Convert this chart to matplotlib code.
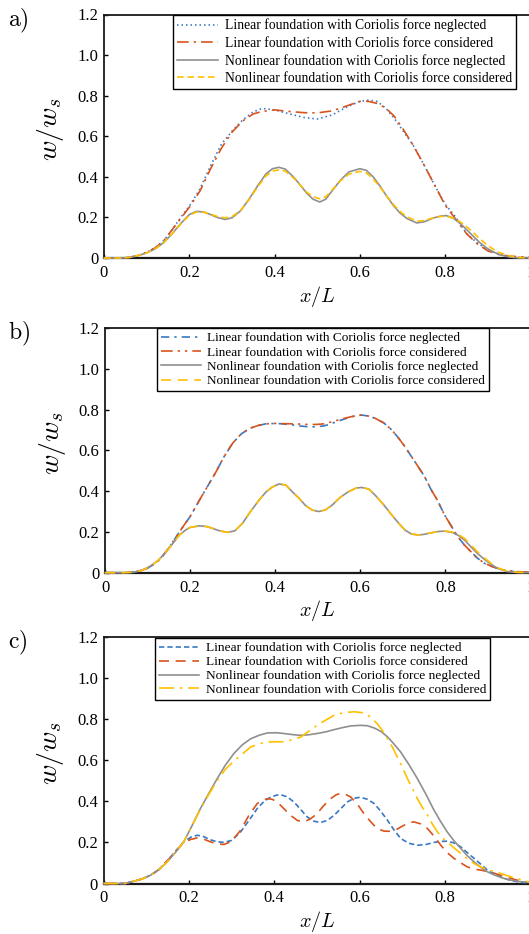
import matplotlib
matplotlib.use("Agg")
import matplotlib.pyplot as plt

plt.rcParams['font.family'] = ['Liberation Serif', 'DejaVu Serif']
plt.rcParams['mathtext.fontset'] = 'cm'

# ---------------- data ----------------
labels = ["Linear foundation with Coriolis force neglected",
          "Linear foundation with Coriolis force considered",
          "Nonlinear foundation with Coriolis force neglected",
          "Nonlinear foundation with Coriolis force considered"]
xticks = [0, 0.2, 0.4, 0.6, 0.8, 1.0]
xticklabels = ["0", "0.2", "0.4", "0.6", "0.8", "1"]
yticks = [0, 0.2, 0.4, 0.6, 0.8, 1.0, 1.2]
yticklabels = ["0", "0.2", "0.4", "0.6", "0.8", "1.0", "1.2"]
panel_names = ["a)", "b)", "c)"]

# panel a
xa_l = [0, 0.04, 0.06, 0.08, 0.1, 0.12, 0.14, 0.16, 0.18, 0.2, 0.225, 0.25, 0.275, 0.3, 0.325, 0.35, 0.37,
        0.4, 0.435, 0.47, 0.5, 0.535, 0.57, 0.6, 0.62, 0.64, 0.66, 0.68, 0.7, 0.725, 0.75, 0.775, 0.8, 0.825,
        0.85, 0.875, 0.9, 0.93, 0.96, 1.0]
a_lin_neg = [0, 0, .004, .012, .028, .05, .085, .14, .2, .255, .34, .455, .56, .625, .68, .72, .737, .73, .71,
             .692, .685, .705, .745, .772, .778, .772, .74, .69, .63, .555, .46, .36, .265, .2, .12, .075, .04,
             .016, .005, 0]
a_lin_con = [0, 0, .004, .012, .028, .05, .085, .14, .195, .25, .33, .44, .54, .62, .675, .71, .722, .73, .722,
             .716, .715, .725, .75, .772, .772, .762, .74, .7, .64, .555, .46, .36, .26, .19, .12, .07, .035,
             .014, .008, .004]
xa_n = [0, 0.04, 0.06, 0.08, 0.1, 0.12, 0.14, 0.16, 0.18, 0.2, 0.217, 0.235, 0.25, 0.265, 0.284, 0.3, 0.32,
        0.34, 0.36, 0.38, 0.395, 0.41, 0.425, 0.444, 0.46, 0.475, 0.49, 0.506, 0.52, 0.537, 0.555, 0.575, 0.6,
        0.615, 0.631, 0.647, 0.663, 0.68, 0.694, 0.71, 0.733, 0.75, 0.772, 0.79, 0.803, 0.82, 0.834, 0.85,
        0.866, 0.88, 0.897, 0.913, 0.928, 0.95, 0.97, 1.0]
a_non_neg = [0, 0, .003, .012, .025, .045, .076, .12, .17, .214, .23, .226, .214, .2, .19, .198, .232, .29,
             .355, .415, .44, .447, .438, .40, .36, .32, .29, .276, .29, .337, .385, .425, .44, .432, .40,
             .355, .304, .255, .222, .195, .173, .178, .197, .207, .209, .195, .173, .14, .107, .078, .049,
             .03, .016, .005, .001, 0]
a_non_con = [0, 0, .003, .012, .025, .045, .076, .12, .168, .21, .227, .225, .215, .205, .198, .204, .234,
             .287, .35, .405, .428, .435, .428, .395, .36, .325, .302, .292, .302, .34, .382, .414, .427, .42,
             .39, .35, .305, .26, .23, .203, .182, .184, .198, .205, .205, .196, .18, .155, .125, .097, .066,
             .043, .026, .011, .003, 0]

# panel b
xb_l = [0, 0.05, 0.08, 0.1, 0.12, 0.135, 0.152, 0.167, 0.183, 0.2, 0.222, 0.24, 0.261, 0.28, 0.3, 0.32,
        0.339, 0.36, 0.378, 0.4, 0.417, 0.44, 0.456, 0.475, 0.495, 0.515, 0.533, 0.55, 0.572, 0.59, 0.603,
        0.62, 0.635, 0.655, 0.674, 0.69, 0.705, 0.72, 0.736, 0.75, 0.767, 0.78, 0.798, 0.815, 0.829, 0.845,
        0.86, 0.875, 0.892, 0.91, 0.923, 0.94, 0.962, 0.98, 1.0]
b_lin_neg = [0, 0, .008, .022, .048, .08, .127, .175, .225, .275, .356, .42, .495, .57, .635, .68, .707,
             .722, .73, .732, .73, .725, .72, .716, .715, .72, .732, .745, .76, .77, .773, .768, .757, .735,
             .70, .66, .618, .57, .52, .475, .405, .36, .283, .225, .176, .135, .103, .072, .046, .03, .021,
             .012, .005, .002, .001]
b_lin_con = [0, 0, .008, .022, .048, .08, .127, .175, .225, .275, .356, .42, .495, .57, .635, .68, .707,
             .722, .73, .732, .731, .73, .729, .727, .727, .73, .74, .75, .762, .77, .773, .768, .757, .735,
             .70, .66, .618, .57, .52, .475, .405, .36, .283, .225, .176, .135, .103, .072, .046, .03, .021,
             .012, .006, .004, .003]
xb_n = [0, 0.04, 0.066, 0.085, 0.105, 0.125, 0.144, 0.16, 0.175, 0.19, 0.2, 0.222, 0.24, 0.253, 0.27, 0.288,
        0.305, 0.323, 0.342, 0.362, 0.378, 0.393, 0.409, 0.425, 0.44, 0.456, 0.471, 0.487, 0.502, 0.518,
        0.533, 0.553, 0.572, 0.59, 0.603, 0.62, 0.635, 0.655, 0.674, 0.69, 0.705, 0.72, 0.736, 0.75, 0.767,
        0.783, 0.798, 0.815, 0.829, 0.845, 0.86, 0.875, 0.892, 0.908, 0.923, 0.946, 0.97, 1.0]
b_non_neg = [0, 0, .002, .01, .03, .06, .103, .145, .185, .21, .222, .23, .226, .217, .205, .198, .205, .242,
             .3, .356, .395, .42, .435, .43, .397, .365, .33, .307, .30, .308, .33, .37, .397, .415, .418,
             .41, .38, .333, .283, .243, .209, .19, .185, .188, .196, .202, .204, .198, .185, .16, .127,
             .095, .065, .04, .021, .005, .001, 0]
b_non_con = [0, 0, .002, .01, .03, .06, .103, .145, .185, .21, .222, .23, .226, .217, .205, .198, .205, .242,
             .3, .356, .395, .42, .435, .43, .397, .365, .33, .307, .30, .308, .33, .37, .397, .415, .418,
             .41, .38, .333, .283, .243, .209, .19, .185, .188, .196, .202, .204, .2, .19, .168, .137,
             .103, .072, .045, .024, .007, .002, 0]

# panel c
xc_b = [0, 0.05, 0.071, 0.09, 0.11, 0.13, 0.149, 0.168, 0.188, 0.205, 0.22, 0.235, 0.25, 0.266, 0.282, 0.3,
        0.321, 0.34, 0.36, 0.376, 0.391, 0.405, 0.415, 0.43, 0.446, 0.462, 0.477, 0.493, 0.509, 0.525, 0.54,
        0.556, 0.571, 0.587, 0.602, 0.618, 0.634, 0.65, 0.665, 0.68, 0.696, 0.715, 0.735, 0.755, 0.774, 0.79,
        0.805, 0.82, 0.837, 0.852, 0.868, 0.884, 0.899, 0.915, 0.93, 0.946, 0.962, 0.98, 1.0]
c_lin_neg = [0, 0, .011, .022, .04, .068, .11, .155, .203, .226, .235, .228, .213, .203, .2, .21, .251, .305,
             .365, .4, .42, .43, .432, .422, .397, .36, .324, .303, .297, .308, .332, .365, .397, .415, .42,
             .41, .389, .35, .308, .262, .219, .196, .186, .19, .2, .205, .206, .198, .178, .15, .122, .093,
             .065, .046, .032, .02, .011, .005, .002]
xc_o = [0, 0.05, 0.071, 0.09, 0.11, 0.13, 0.149, 0.168, 0.188, 0.205, 0.22, 0.235, 0.25, 0.266, 0.282, 0.3,
        0.321, 0.34, 0.36, 0.372, 0.384, 0.395, 0.407, 0.422, 0.438, 0.454, 0.47, 0.485, 0.5, 0.516, 0.532,
        0.545, 0.555, 0.567, 0.579, 0.595, 0.61, 0.626, 0.641, 0.657, 0.673, 0.688, 0.704, 0.716, 0.727,
        0.743, 0.759, 0.775, 0.79, 0.805, 0.821, 0.837, 0.852, 0.868, 0.884, 0.9, 0.915, 0.93, 0.946, 0.962,
        0.98, 1.0]
c_lin_con = [0, 0, .011, .022, .04, .068, .11, .155, .2, .215, .222, .216, .203, .193, .19, .205, .259, .33,
             .389, .405, .413, .41, .397, .365, .332, .307, .3, .315, .34, .38, .413, .432, .438, .434, .421,
             .385, .34, .3, .267, .255, .254, .265, .284, .296, .3, .29, .267, .228, .186, .15, .122, .1,
             .081, .07, .065, .058, .05, .04, .03, .02, .01, .004]
xc_g = [0, 0.05, 0.071, 0.09, 0.11, 0.13, 0.149, 0.168, 0.188, 0.207, 0.227, 0.247, 0.266, 0.285, 0.305,
        0.325, 0.345, 0.365, 0.384, 0.405, 0.423, 0.442, 0.462, 0.48, 0.5, 0.52, 0.54, 0.56, 0.579, 0.602,
        0.618, 0.634, 0.65, 0.665, 0.68, 0.696, 0.715, 0.735, 0.755, 0.774, 0.79, 0.805, 0.82, 0.837, 0.852,
        0.868, 0.884, 0.899, 0.915, 0.93, 0.946, 0.962, 0.98, 1.0]
c_non_neg = [0, 0, .011, .022, .04, .068, .105, .15, .203, .28, .365, .44, .51, .575, .632, .675, .705, .722,
             .733, .734, .73, .725, .721, .724, .73, .738, .749, .759, .767, .77, .768, .757, .74, .714, .68,
             .64, .58, .511, .435, .357, .3, .251, .21, .17, .135, .105, .078, .057, .042, .03, .02, .013,
             .008, .005]
xc_y = [0, 0.05, 0.071, 0.09, 0.11, 0.13, 0.149, 0.168, 0.188, 0.207, 0.227, 0.247, 0.266, 0.285, 0.305,
        0.325, 0.345, 0.365, 0.384, 0.405, 0.423, 0.442, 0.462, 0.48, 0.5, 0.52, 0.54, 0.563, 0.587, 0.605,
        0.618, 0.63, 0.641, 0.653, 0.665, 0.677, 0.688, 0.7, 0.712, 0.724, 0.735, 0.747, 0.759, 0.77, 0.782,
        0.795, 0.805, 0.82, 0.837, 0.852, 0.868, 0.884, 0.899, 0.915, 0.93, 0.946, 0.962, 0.98, 1.0]
c_non_con = [0, 0, .011, .022, .04, .068, .105, .15, .203, .28, .362, .435, .5, .555, .595, .63, .665, .68,
             .689, .69, .69, .7, .713, .74, .77, .795, .819, .832, .836, .832, .822, .8, .778, .745, .705,
             .662, .616, .565, .51, .46, .413, .37, .332, .29, .251, .22, .203, .175, .146, .12, .097, .08,
             .068, .058, .049, .038, .028, .017, .005]

# ---------------- style ----------------
BLUE = '#3a78c2'
ORANGE = '#d9541c'
GRAY = '#8f8f8f'
YELLOW = '#ffc000'

W, H = 529, 934
fig = plt.figure(figsize=(W / 100, H / 100), dpi=100)


def make_axes(left, top, bottom, right=530.5):
    return fig.add_axes([left / W, 1 - bottom / H, (right - left) / W, (bottom - top) / H])


panels = [
    dict(box=(104, 14.5, 258), legend=(173, 14.5), lfs=9.8, lsp=0.32,
         series=[(xa_l, a_lin_neg, BLUE, (0, (0.9, 1.8))),
                 (xa_l, a_lin_con, ORANGE, (0, (7, 3, 1.4, 3))),
                 (xa_n, a_non_neg, GRAY, '-'),
                 (xa_n, a_non_con, YELLOW, (0, (4, 2.2)))]),
    dict(box=(105, 328, 572.7), legend=(157, 328), lfs=9.5, lsp=0.16,
         series=[(xb_l, b_lin_neg, BLUE, (0, (5, 3, 1.4, 3))),
                 (xb_l, b_lin_con, ORANGE, (0, (7, 3, 1.4, 3, 1.4, 3))),
                 (xb_n, b_non_neg, GRAY, '-'),
                 (xb_n, b_non_con, YELLOW, (0, (6, 4)))]),
    dict(box=(103.5, 637, 883.5), legend=(155, 638), lfs=9.6, lsp=0.12,
         series=[(xc_b, c_lin_neg, BLUE, (0, (3.2, 1.8))),
                 (xc_o, c_lin_con, ORANGE, (0, (6, 4))),
                 (xc_g, c_non_neg, GRAY, '-'),
                 (xc_y, c_non_con, YELLOW, (0, (9, 3.5, 1.4, 3.5)))]),
]

for i, p in enumerate(panels):
    left, top, bottom = p['box']
    ax = make_axes(left, top, bottom)
    handles = []
    for (xs, ys, col, ls), lab in zip(p['series'], labels):
        ln, = ax.plot(xs, ys, color=col, linestyle=ls, lw=1.2, zorder=3, clip_on=False, label=lab)
        handles.append(ln)
    ax.set_xlim(0, 1)
    ax.set_ylim(0, 1.2)
    ax.set_xticks(xticks)
    ax.set_xticklabels(xticklabels)
    ax.set_yticks(yticks)
    ax.set_yticklabels(yticklabels)
    ax.tick_params(direction='in', length=3, width=1, labelsize=12, pad=4,
                   top=False, right=False)
    ax.tick_params(axis='x', pad=5)
    for s in ['left', 'bottom', 'top', 'right']:
        ax.spines[s].set_linewidth(1.3)
        ax.spines[s].set_color('#1a1a1a')
    ax.spines['bottom'].set_linewidth(1.6)
    ax.set_xlabel(r'$x/L$', fontsize=14.5, labelpad=2)
    ax.set_ylabel(r'$w/w_s$', fontsize=20)
    ax.yaxis.set_label_coords(-0.088, 0.53)
    lx, ly = p['legend']
    leg = ax.legend(handles=handles, loc='upper left',
                    bbox_to_anchor=(lx / W, 1 - ly / H), bbox_transform=fig.transFigure,
                    borderaxespad=0, fontsize=p['lfs'], frameon=True, fancybox=False,
                    edgecolor='black', framealpha=1, handlelength=3.0, handletextpad=0.5,
                    labelspacing=p['lsp'], borderpad=0.3)
    leg.get_frame().set_linewidth(1.0)
    leg.set_zorder(10)
    fig.text(8 / W, 1 - (top + 6) / H, r'$\mathrm{%s}$' % panel_names[i], fontsize=17,
             ha='left', va='center')

fig.savefig('out.png', dpi=100)
